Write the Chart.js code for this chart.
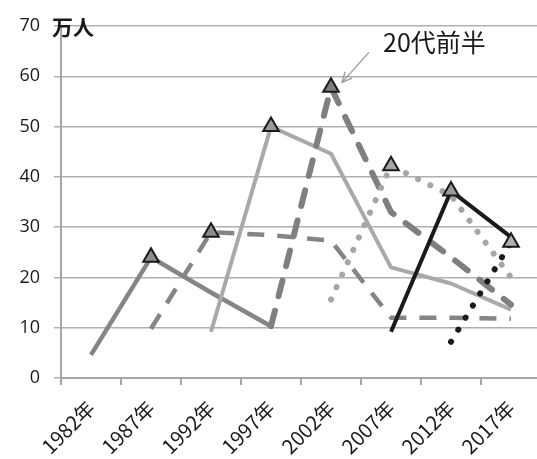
<!DOCTYPE html>
<html>
<head>
<meta charset="utf-8">
<script src="https://cdn.jsdelivr.net/npm/chart.js@4/dist/chart.umd.min.js"></script>
<style>
html,body{margin:0;padding:0;background:#fff;overflow:hidden;}
#wrap{width:560px;height:459px;}
</style>
</head>
<body>
<div id="wrap"><canvas id="c" width="560" height="459"></canvas></div>
<script>
const years = ['1982年','1987年','1992年','1997年','2002年','2007年','2012年','2017年'];
const cohortA = [4.6, 24, 17, 10.3, null, null, null, null];
const cohortB = [null, 9.8, 29, 28.4, 27.3, 12, 12, 11.8];
const cohortC = [null, null, 9.2, 50, 44.6, 22, 18.8, 13.6];
const cohortD = [null, null, null, 10.3, 57.8, 33, 24, 14.6];
const cohortE = [null, null, null, null, 15.6, 42.2, 36.3, 20];
const cohortF = [null, null, null, null, null, 9.2, 37.2, 28];
const cohortG = [null, null, null, null, null, null, 7.2, 27];
// index of the "20代前半" point (triangle marker) for each cohort
const earlyTwentiesIdx = [1, 2, 3, 4, 5, 6, 7];
const yTicks = [0, 10, 20, 30, 40, 50, 60, 70];
const unitLabel = '万人';
const calloutLabel = '20代前半';

const seriesDefs = [
  {data: cohortA, color: '#858585', width: 4.5, dash: [], cap: 'butt', mfill: '#8c8c8c'},
  {data: cohortB, color: '#858585', width: 4.5, dash: [17, 13], cap: 'butt', mfill: '#8c8c8c'},
  {data: cohortC, color: '#a9a9a9', width: 4, dash: [], cap: 'butt', mfill: '#9a9a9a'},
  {data: cohortD, color: '#7f7f7f', width: 6, dash: [16, 15], cap: 'round', mfill: '#7f7f7f'},
  {data: cohortE, color: '#a6a6a6', width: 6, dash: [0.1, 13.5], cap: 'round', mfill: '#a6a6a6'},
  {data: cohortF, color: '#1a1a1a', width: 4, dash: [], cap: 'butt', mfill: '#9a9a9a'},
  {data: cohortG, color: '#1a1a1a', width: 6, dash: [0.1, 14], cap: 'round', mfill: '#b0b0b0'}
];

const datasets = seriesDefs.map((s, i) => ({
  label: 'c' + i,
  data: s.data,
  borderColor: s.color,
  borderWidth: s.width,
  borderDash: s.dash,
  borderCapStyle: s.cap,
  borderJoinStyle: 'round',
  tension: 0,
  spanGaps: false,
  fill: false,
  order: 10 - i,
  pointStyle: 'triangle',
  pointRadius: s.data.map((v, j) => j === earlyTwentiesIdx[i] ? 9 : 0),
  pointHoverRadius: 0,
  pointBackgroundColor: s.mfill,
  pointBorderColor: '#1a1a1a',
  pointBorderWidth: 2
}));

const annot = {
  id: 'annot',
  afterDatasetsDraw(chart) {
    const ctx = chart.ctx;
    const xs = chart.scales.x, ys = chart.scales.y;
    ctx.save();
    // 万人
    ctx.fillStyle = '#1a1a1a';
    ctx.font = 'bold 21px "Noto Sans CJK JP"';
    ctx.textAlign = 'left';
    ctx.textBaseline = 'middle';
    ctx.fillText(unitLabel, 52, 27);
    // callout
    const px = xs.getPixelForValue(earlyTwentiesIdx[3]);
    const py = ys.getPixelForValue(cohortD[earlyTwentiesIdx[3]]);
    const tipX = px + 11, tipY = py - 5;
    const sx = px + 38, sy = py - 35;
    ctx.strokeStyle = '#9a9a9a';
    ctx.lineWidth = 1.3;
    ctx.beginPath();
    ctx.moveTo(sx, sy); ctx.lineTo(tipX, tipY); ctx.stroke();
    const ang = Math.atan2(tipY - sy, tipX - sx);
    const L = 11;
    ctx.beginPath();
    ctx.moveTo(tipX - L * Math.cos(ang - 0.45), tipY - L * Math.sin(ang - 0.45));
    ctx.lineTo(tipX, tipY);
    ctx.lineTo(tipX - L * Math.cos(ang + 0.45), tipY - L * Math.sin(ang + 0.45));
    ctx.stroke();
    ctx.fillStyle = '#1a1a1a';
    ctx.font = '25px "Noto Sans CJK JP"';
    ctx.fillText(calloutLabel, px + 52, py - 45);
    ctx.restore();
  }
};

new Chart(document.getElementById('c'), {
  type: 'line',
  data: {labels: years, datasets},
  options: {
    responsive: false,
    animation: false,
    events: [],
    layout: {padding: {top: 26, right: 19, left: 0, bottom: 0}},
    plugins: {legend: {display: false}, tooltip: {enabled: false}},
    scales: {
      x: {
        type: 'category',
        offset: true,
        grid: {offset: true, drawOnChartArea: false, drawTicks: true, tickLength: 7, color: '#a6a6a6', lineWidth: 2},
        border: {color: '#a6a6a6', width: 2},
        ticks: {maxRotation: 45, minRotation: 45, autoSkip: false, padding: 11, color: '#1a1a1a',
                font: {size: 20, family: '"Noto Sans CJK JP", "Open Sans"'}},
        afterFit: s => { s.height = 81; }
      },
      y: {
        min: 0, max: 70,
        afterBuildTicks: s => { s.ticks = yTicks.map(v => ({value: v})); },
        grid: {color: '#b0b0b0', lineWidth: 1.5, drawTicks: true, tickLength: 7},
        border: {color: '#a6a6a6', width: 2},
        ticks: {padding: 14, color: '#1a1a1a', font: {size: 18, family: '"Open Sans"'}},
        afterFit: s => { s.width = 61; }
      }
    }
  },
  plugins: [annot]
});
</script>
</body>
</html>
